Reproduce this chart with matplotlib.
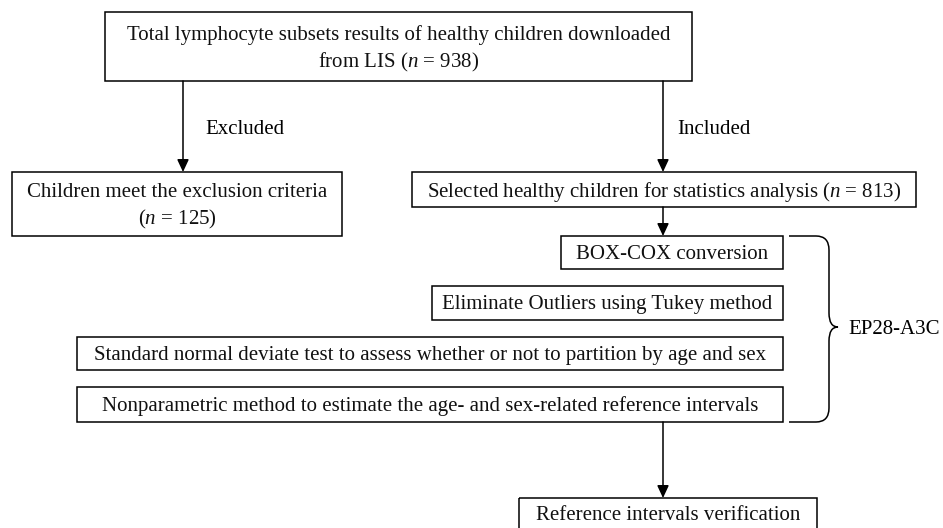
import matplotlib.pyplot as plt
from matplotlib.path import Path
from matplotlib.patches import PathPatch, Rectangle

plt.rcParams['font.family'] = 'Liberation Serif'
plt.rcParams['mathtext.fontset'] = 'custom'
plt.rcParams['mathtext.rm'] = 'Liberation Serif'
plt.rcParams['mathtext.it'] = 'Liberation Serif:italic'

# data
n_total = 938
n_excluded = 125
n_included = 813
branch_labels = ["Excluded", "Included"]
steps = ["BOX-COX conversion",
         "Eliminate Outliers using Tukey method",
         "Standard normal deviate test to assess whether or not to partition by age and sex",
         "Nonparametric method to estimate the age- and sex-related reference intervals"]
guideline = "EP28-A3C"
final_step = "Reference intervals verification"

W, H = 943, 528
fig = plt.figure(figsize=(W / 100, H / 100), dpi=100)
ax = fig.add_axes([0, 0, 1, 1])
ax.set_xlim(0, W)
ax.set_ylim(H, 0)
ax.axis('off')

FS = 15
LW = 1.1


def box(x0, y0, x1, y1, lines, dy=2):
    ax.add_patch(Rectangle((x0, y0), x1 - x0, y1 - y0, fill=False, lw=LW, ec='black'))
    tx = (x0 + x1) / 2
    n = len(lines)
    for i, s in enumerate(lines):
        ty = (y0 + y1) / 2 + (i - (n - 1) / 2) * 27 + dy
        ax.text(tx, ty, s, ha='center', va='center', fontsize=FS, color='#111111')


def arrow(x, y0, y1):
    ax.annotate('', xy=(x, y1), xytext=(x, y0),
                arrowprops=dict(arrowstyle='-|>,head_length=0.75,head_width=0.35',
                                lw=LW, color='black', shrinkA=0, shrinkB=0))


box(105, 12, 692, 81, ["Total lymphocyte subsets results of healthy children downloaded",
                        "from LIS ($n$ = %d)" % n_total])
box(12, 172, 342, 236, ["Children meet the exclusion criteria", "($n$ = %d)" % n_excluded])
box(412, 172, 916, 207, ["Selected healthy children for statistics analysis ($n$ = %d)" % n_included])

arrow(183, 81, 172)
arrow(663, 81, 172)
ax.text(205, 129, branch_labels[0], ha='left', va='center', fontsize=FS)
ax.text(677, 129, branch_labels[1], ha='left', va='center', fontsize=FS)
arrow(663, 207, 236)

step_boxes = [(561, 236, 783, 269), (432, 286, 783, 320), (77, 337, 783, 370), (77, 387, 783, 422)]
for (x0, y0, x1, y1), s in zip(step_boxes, steps):
    box(x0, y0, x1, y1, [s])

# brace
verts = [(789, 236), (816, 236), (829, 236), (829, 250),
         (829, 313), (829, 327), (838, 327),
         (829, 327), (829, 341),
         (829, 408), (829, 422), (816, 422),
         (789, 422)]
codes = [Path.MOVETO, Path.LINETO, Path.CURVE3, Path.CURVE3,
         Path.LINETO, Path.CURVE3, Path.CURVE3,
         Path.CURVE3, Path.CURVE3,
         Path.LINETO, Path.CURVE3, Path.CURVE3,
         Path.LINETO]
ax.add_patch(PathPatch(Path(verts, codes), fill=False, lw=LW, ec='black'))
ax.text(848, 329, guideline, ha='left', va='center', fontsize=FS)

arrow(663, 422, 498)
box(519, 498, 817, 536, [final_step], dy=-2)

fig.savefig('out.png', dpi=100)
